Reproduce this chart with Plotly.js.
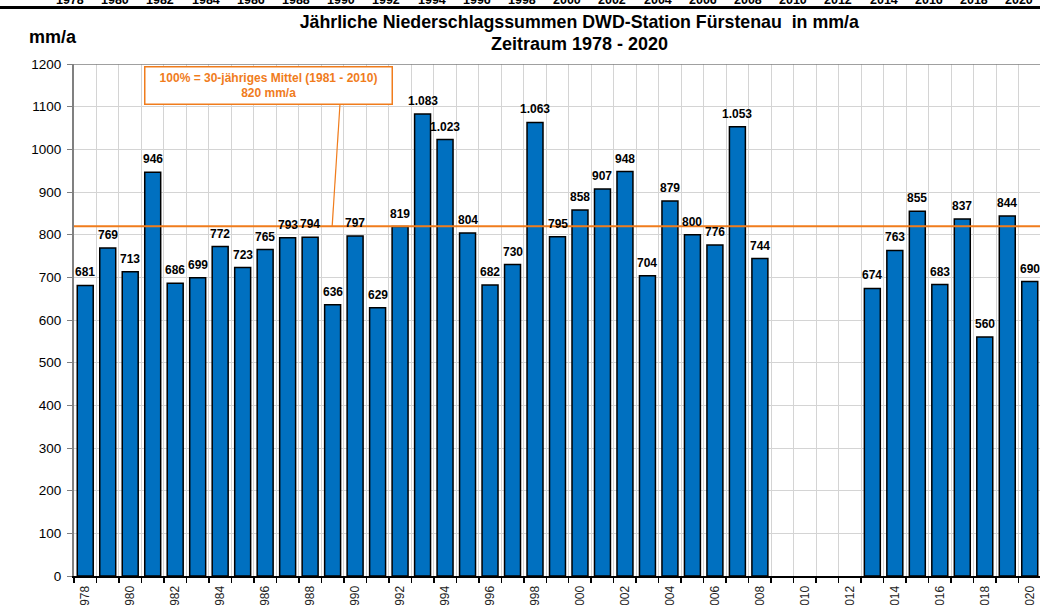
<!DOCTYPE html>
<html>
<head>
<meta charset="utf-8">
<script src="https://cdn.plot.ly/plotly-3.0.1.min.js"></script>
<style>
html,body{margin:0;padding:0;overflow:hidden;background:#fff;width:1040px;height:605px;}
#chart{width:1060px;height:620px;}
</style>
</head>
<body>
<div id="chart"></div>
<script>
const years = ["1978","1979","1980","1981","1982","1983","1984","1985","1986","1987","1988","1989","1990","1991","1992","1993","1994","1995","1996","1997","1998","1999","2000","2001","2002","2003","2004","2005","2006","2007","2008","2009","2010","2011","2012","2013","2014","2015","2016","2017","2018","2019","2020"];
const precipitation = [681,769,713,946,686,699,772,723,765,793,794,636,797,629,819,1083,1023,804,682,730,1063,795,858,907,948,704,879,800,776,1053,744,null,null,null,null,674,763,855,683,837,560,844,690];
const tickLabels = years.map((y,i) => i % 2 === 0 ? y : "");
const meanValue = 820;
const titleLine1 = "Jährliche Niederschlagssummen DWD-Station Fürstenau  in mm/a";
const titleLine2 = "Zeitraum 1978 - 2020";
const meanLabel = "100% = 30-jähriges Mittel (1981 - 2010)<br>820 mm/a";
const topStripLabels = years.filter((y,i) => i % 2 === 0);

const FONT = "Arial, 'Liberation Sans', sans-serif";
const ORANGE = "#F07C1C";
const PLOT_W = 967, PLOT_L = 74, PLOT_T = 64, PLOT_H = 512;

function fmt(v) {
  if (v >= 1000) return Math.floor(v/1000) + "." + String(v % 1000).padStart(3, "0");
  return String(v);
}

const trace = {
  type: "bar",
  x: years,
  y: precipitation,
  marker: {color: "#0070C0", line: {color: "#000000", width: 1.5}},
  hoverinfo: "skip"
};

const annotations = [
  {xref: "paper", yref: "paper", x: -0.0217, y: 1.053, xanchor: "center", yanchor: "middle",
   text: "mm/a", showarrow: false, font: {family: FONT, size: 18, color: "#000", weight: "bold"}},
  {xref: "paper", yref: "paper", x: 0.5225, y: 1.039, xanchor: "center", yanchor: "middle",
   text: titleLine2, showarrow: false, font: {family: FONT, size: 18, color: "#000", weight: "bold"}},
  {xref: "x", yref: "y", x: 8.13, y: 1150.7, xanchor: "center", yanchor: "middle",
   text: meanLabel, showarrow: false, bgcolor: "#fff", bordercolor: ORANGE, borderwidth: 1.5,
   borderpad: 3, width: 240, height: 30,
   font: {family: FONT, size: 12, color: ORANGE, weight: "bold"}}
];
topStripLabels.forEach((y,i) => {
  annotations.push({xref: "paper", yref: "paper", x: (70 + i*45.2 - PLOT_L)/PLOT_W, y: 1 + 64.5/PLOT_H,
    xanchor: "center", yanchor: "middle",
    text: y, showarrow: false, font: {family: FONT, size: 12.5, color: "#000", weight: "bold"}});
});
years.forEach((y,i) => {
  const v = precipitation[i];
  if (v === null) return;
  annotations.push({xref: "x", yref: "y", x: i, y: v, xanchor: "center", yanchor: "bottom", yshift: 4,
    text: fmt(v), showarrow: false, font: {family: FONT, size: 12, color: "#000", weight: "bold"}});
});

const layout = {
  width: 1060, height: 620, autosize: false,
  margin: {l: PLOT_L, r: 19, t: PLOT_T, b: 44},
  paper_bgcolor: "#fff", plot_bgcolor: "#fff",
  showlegend: false,
  bargap: 0.29,
  title: {text: titleLine1, xref: "paper", x: 0.5225, xanchor: "center",
          yref: "container", y: 1 - 22/620, yanchor: "middle",
          font: {family: FONT, size: 17.8, color: "#000", weight: "bold"}},
  xaxis: {
    type: "category",
    range: [-0.5, 42.5],
    tickmode: "array", tickvals: years, ticktext: tickLabels,
    tickson: "boundaries",
    ticks: "outside", ticklen: 5, tickwidth: 1.5, tickcolor: "#000",
    tickangle: -90, ticklabelstandoff: 3,
    tickfont: {family: FONT, size: 12, color: "#222"},
    showgrid: true, gridcolor: "#d4d4d4", gridwidth: 1,
    showline: true, linecolor: "#000", linewidth: 2,
    fixedrange: true, automargin: false
  },
  yaxis: {
    range: [0, 1200], dtick: 100, tick0: 0,
    ticks: "outside", ticklen: 5, tickcolor: "#808080", tickwidth: 1,
    ticklabelstandoff: 3,
    tickfont: {family: FONT, size: 13.5, color: "#000"},
    showgrid: true, gridcolor: "#d4d4d4", gridwidth: 1,
    showline: true, linecolor: "#808080", linewidth: 2,
    zeroline: false, fixedrange: true, automargin: false
  },
  shapes: [
    {type: "line", xref: "paper", yref: "y", x0: 0, x1: 1, y0: 1200, y1: 1200, line: {color: "#808080", width: 1.5}},
    {type: "line", xref: "paper", yref: "y", x0: 0, x1: 1, y0: meanValue, y1: meanValue, line: {color: ORANGE, width: 2}},
    {type: "line", xref: "x", yref: "y", x0: 11.33, x1: 10.98, y0: 1108, y1: meanValue, line: {color: ORANGE, width: 1.2}},
    {type: "line", layer: "above", xref: "x domain", yref: "y domain", x0: -PLOT_L/PLOT_W, x1: 1.02,
     y0: 1 + (PLOT_T-7.5)/PLOT_H, y1: 1 + (PLOT_T-7.5)/PLOT_H, line: {color: "#000", width: 3}}
  ],
  annotations: annotations
};

Plotly.newPlot("chart", [trace], layout, {displayModeBar: false, staticPlot: true});
</script>
</body>
</html>
